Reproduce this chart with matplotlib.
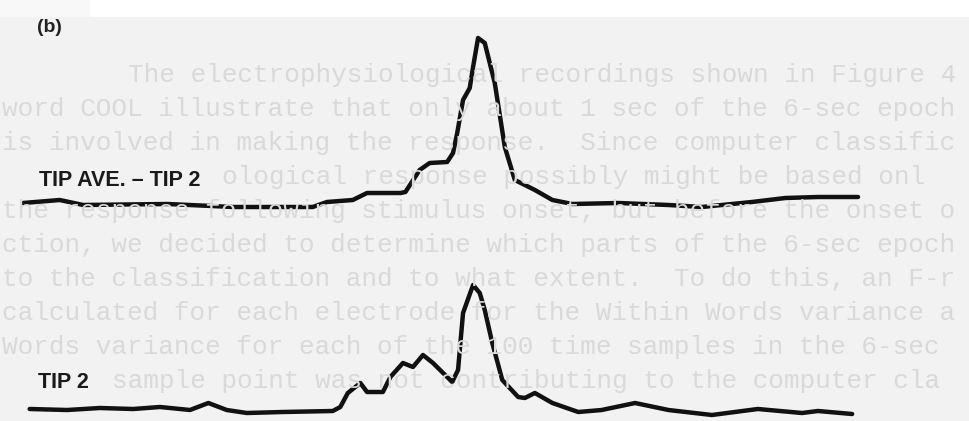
import matplotlib.pyplot as plt
from matplotlib.patches import Rectangle

# sample index (100 samples over the 6-sec epoch) and response amplitude (arb. units)
ave_t = [0, 4.4, 7.2, 17.3, 25.2, 34.7, 36.4, 39.5, 41.2, 45.2, 45.8, 47.5, 48.7,
         50.8, 51.5, 52.0, 52.7, 53.5, 53.9, 54.5, 55.3, 56.5, 57.7, 58.9, 60.1,
         61.3, 63.4, 65.8, 71.3, 77.3, 81.3, 87.3, 91.3, 95.2, 100]
ave_amp = [2, 5, 0, 1, -2, -2, 3, 5, 12, 12, 13, 35, 42,
           43, 52, 72, 105, 117, 138, 167, 162, 122, 58, 25, 20,
           15, 5, 1, 2, 0, -2, 3, 7, 8, 8]

tip2_t = [0.8, 5.3, 9.2, 13.2, 16.4, 20.0, 22.2, 24.4, 26.8, 31.1, 37.1, 38.0, 38.9,
          40.4, 41.2, 43.1, 44.0, 45.5, 46.7, 47.9, 49.1, 51.4, 52.1, 52.7, 53.9,
          54.7, 55.3, 56.2, 57.4, 59.3, 60.1, 61.3, 63.4, 66.5, 69.3, 73.3, 77.3,
          82.5, 88.0, 93.3, 95.2, 99.3]
tip2_amp = [1, 0, 2, 1, 3, 0, 7, 0, -3, -2, -1, 3, 17,
            27, 18, 18, 33, 47, 43, 55, 47, 28, 40, 97, 125,
            117, 100, 67, 30, 13, 12, 17, 7, -2, 0, 7, 0,
            -5, 1, -3, -1, -4]

panel_label = "(b)"
trace_labels = ["TIP AVE. \u2013 TIP 2", "TIP 2"]

# faint typewritten text showing through the scanned page (start column, text)
bg_lines = [
    (8, "The electrophysiological recordings shown in Figure 4"),
    (0, "word COOL illustrate that only about 1 sec of the 6-sec epoch"),
    (0, "is involved in making the response.  Since computer classific"),
    (14, "ological response possibly might be based onl"),
    (0, "the response following stimulus onset, but before the onset o"),
    (0, "ction, we decided to determine which parts of the 6-sec epoch"),
    (0, "to the classification and to what extent.  To do this, an F-r"),
    (0, "calculated for each electrode for the Within Words variance a"),
    (0, "Words variance for each of the 100 time samples in the 6-sec"),
    (7, "sample point was not contributing to the computer cla"),
]

W, H = 969, 421
fig = plt.figure(figsize=(W / 100, H / 100), dpi=100, facecolor="#f2f2f2")

# white strip at the top of the scan
fig.patches.append(Rectangle((0, 1 - 17 / H), 1, 17 / H, transform=fig.transFigure,
                             facecolor="white", edgecolor="none", zorder=0))
fig.patches.append(Rectangle((0, 1 - 17 / H), 90 / W, 17 / H, transform=fig.transFigure,
                             facecolor="#f8f8f8", edgecolor="none", zorder=0))

for i, (col, line) in enumerate(bg_lines):
    fig.text((2 + 15.7 * col) / W, 1 - (75 + 34 * i) / H, line, family="Liberation Mono",
             fontsize=18.8, color="#d9d9d9", va="center", ha="left", zorder=0)

x0, px = 23, 8.35   # pixel of sample 0, pixels per sample
xlim = (-x0 / px, (W - x0) / px)

ax1 = fig.add_axes([0, 211 / H, 1, 210 / H])
ax2 = fig.add_axes([0, 0, 1, 211 / H])
for ax, t, a, ylim in [(ax1, ave_t, ave_amp, (-5, 205)), (ax2, tip2_t, tip2_amp, (-11, 200))]:
    ax.plot(t, a, color="#111111", lw=3.2, solid_joinstyle="round",
            solid_capstyle="round", clip_on=False)
    ax.set_xlim(*xlim)
    ax.set_ylim(*ylim)
    ax.set_facecolor("none")
    ax.axis("off")

fig.text(37 / W, 1 - 28 / H, panel_label, fontsize=14, fontweight="bold",
         family="Liberation Sans", color="#222222", va="center", ha="left")
fig.text(39 / W, 1 - 181 / H, trace_labels[0], fontsize=15.5, fontweight="bold",
         family="Liberation Sans", color="#1a1a1a", va="center", ha="left")
fig.text(38 / W, 1 - 383 / H, trace_labels[1], fontsize=15.5, fontweight="bold",
         family="Liberation Sans", color="#1a1a1a", va="center", ha="left")

fig.savefig("out.png", dpi=100, facecolor=fig.get_facecolor())
